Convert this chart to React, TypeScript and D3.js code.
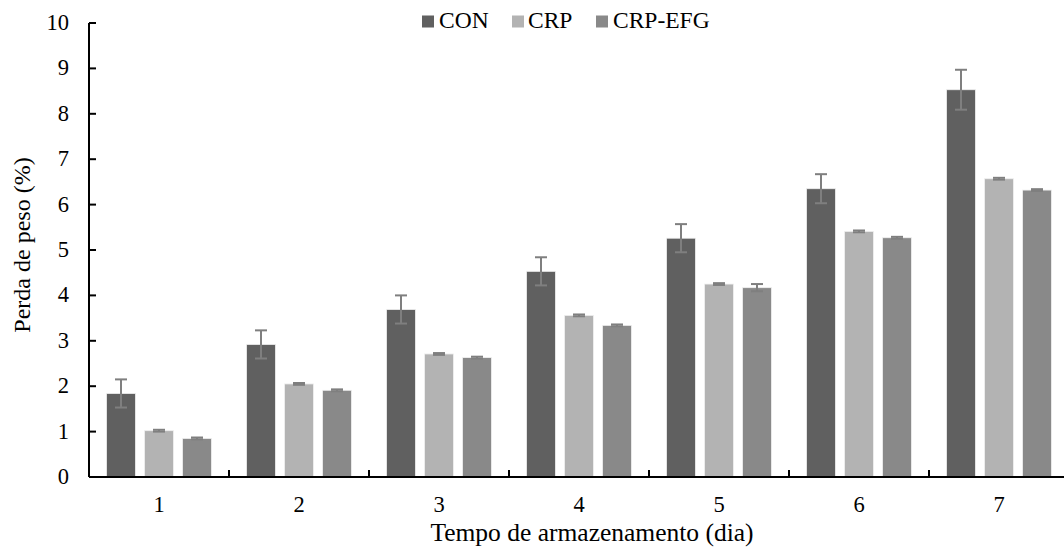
import React from 'react';
import * as d3 from 'd3';

const days = ['1', '2', '3', '4', '5', '6', '7'];
const seriesNames = ['CON', 'CRP', 'CRP-EFG'];
const conValues = [1.84, 2.92, 3.69, 4.53, 5.26, 6.35, 8.53];
const conErrors = [0.31, 0.31, 0.31, 0.31, 0.31, 0.32, 0.44];
const crpValues = [1.02, 2.05, 2.71, 3.56, 4.25, 5.41, 6.57];
const crpErrors = [0.02, 0.02, 0.02, 0.02, 0.02, 0.02, 0.02];
const efgValues = [0.85, 1.91, 2.63, 3.34, 4.17, 5.27, 6.32];
const efgErrors = [0.02, 0.02, 0.02, 0.02, 0.08, 0.02, 0.02];
const yTicks = [0, 1, 2, 3, 4, 5, 6, 7, 8, 9, 10];

const colors = ['#606060', '#b3b3b3', '#898989'];
const font = 'Liberation Serif, Times New Roman, serif';

export default function App() {
  const width = 1064;
  const height = 550;
  const left = 89;
  const top = 23;
  const bottom = 477;

  const values = [conValues, crpValues, efgValues];
  const errors = [conErrors, crpErrors, efgErrors];

  const x = d3.scaleBand().domain(days).range([left, left + 140 * days.length]).padding(0);
  const inner = d3.scaleBand().domain(seriesNames).range([17.5, 122.5]).paddingInner(0.237).paddingOuter(0);
  const y = d3.scaleLinear().domain([0, 10]).range([bottom, top]);

  const legendItems = [
    { name: 'CON', rx: 422, tx: 439 },
    { name: 'CRP', rx: 512, tx: 528 },
    { name: 'CRP-EFG', rx: 596, tx: 613 },
  ];

  return (
    <svg width={width} height={height}
      style={{ position: 'absolute', left: 0, top: 0, background: '#fff', fontFamily: font }}>
      {/* bars */}
      {days.map((d, i) => (
        <g key={d} transform={`translate(${x(d)} 0)`}>
          {seriesNames.map((s, j) => {
            const v = values[j][i];
            const e = errors[j][i];
            const bx = inner(s)!;
            const cx = bx + inner.bandwidth() / 2;
            return (
              <g key={s}>
                <rect x={bx} y={y(v)} width={inner.bandwidth()} height={y(0) - y(v)}
                  fill={colors[j]} stroke="#f0f0f0" strokeWidth={0.8} />
                <line x1={cx} x2={cx} y1={y(v + e)} y2={y(v - e)} stroke="#7f7f7f" strokeWidth={2} />
                <line x1={cx - 6} x2={cx + 6} y1={y(v + e)} y2={y(v + e)} stroke="#7f7f7f" strokeWidth={2} />
                <line x1={cx - 6} x2={cx + 6} y1={y(v - e)} y2={y(v - e)} stroke="#7f7f7f" strokeWidth={2} />
              </g>
            );
          })}
        </g>
      ))}

      {/* y axis */}
      <line x1={left} x2={left} y1={top} y2={bottom} stroke="#000" strokeWidth={2} />
      {yTicks.map(t => (
        <g key={t}>
          <line x1={left} x2={left + 7} y1={y(t)} y2={y(t)} stroke="#000" strokeWidth={2} />
          <text x={69} y={y(t) + 7} textAnchor="end" style={{ fontFamily: font, fontSize: 22.5 }} fill="#000">{t}</text>
        </g>
      ))}

      {/* x axis */}
      <line x1={left} x2={left + 140 * days.length} y1={bottom} y2={bottom} stroke="#000" strokeWidth={2} />
      {days.slice(1).map(d => (
        <line key={d} x1={x(d)} x2={x(d)} y1={bottom} y2={bottom - 7} stroke="#000" strokeWidth={2} />
      ))}
      {days.map(d => (
        <text key={d} x={x(d)! + x.bandwidth() / 2} y={512} textAnchor="middle" style={{ fontFamily: font, fontSize: 22.5 }} fill="#000">{d}</text>
      ))}

      {/* axis titles */}
      <text x={592} y={541} textAnchor="middle" style={{ fontFamily: font, fontSize: 25.5 }} fill="#000">
        Tempo de armazenamento (dia)
      </text>
      <text transform="translate(30 245) rotate(-90)" textAnchor="middle" style={{ fontFamily: font, fontSize: 24 }} fill="#000">
        Perda de peso (%)
      </text>

      {/* legend */}
      {legendItems.map((l, j) => (
        <g key={l.name}>
          <rect x={l.rx} y={15.5} width={12} height={12} fill={colors[j]} />
          <text x={l.tx} y={28} style={{ fontFamily: font, fontSize: 23.5 }} fill="#000">{l.name}</text>
        </g>
      ))}
    </svg>
  );
}
